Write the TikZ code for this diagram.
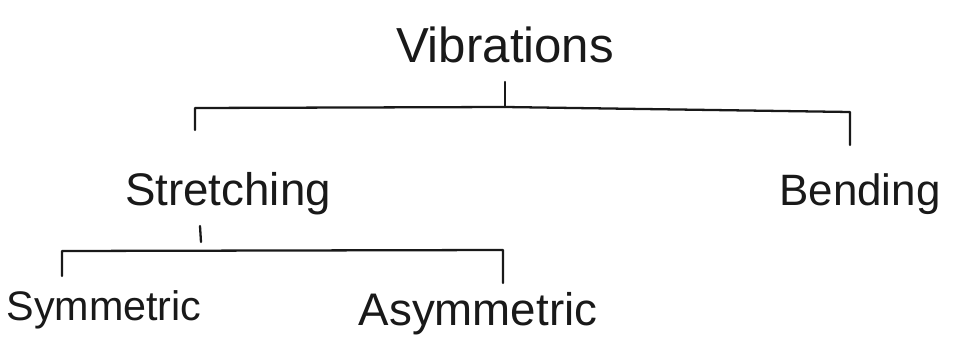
\documentclass[tikz,border=0pt]{standalone}
\usepackage{fontspec}
\setmainfont{Liberation Sans}
\begin{document}
\begin{tikzpicture}[x=0.02cm,y=-0.02cm,
  lbl/.style={anchor=base,inner sep=0pt,font=\fontsize{26}{30}\selectfont,text=black!90},
  bar/.style={line width=1.3pt,draw=black!90,line cap=round,line join=round}]
\useasboundingbox[fill=white] (0,0) rectangle (953,355);
% labels
\node[lbl,font=\fontsize{28}{32}\selectfont] (vib) at (505,62) {Vibrations};
\node[lbl] (str) at (228,205) {Stretching};
\node[lbl,font=\fontsize{25}{30}\selectfont] (ben) at (860,205) {Bending};
\node[lbl,font=\fontsize{23.5}{28}\selectfont] (sym) at (104,320) {Symmetric};
\node[lbl] (asy) at (478,325) {Asymmetric};
% top bracket
\coordinate (vt) at (505,82);
\coordinate (vj) at (505,107);
\coordinate (bl) at (195,108);
\coordinate (blb) at (195,130);
\coordinate (br) at (850,112);
\coordinate (brb) at (850,145);
\draw[bar] (vt) -- (vj);
\draw[bar] (blb) -- (bl) -- (vj) -- (br) -- (brb);
% bottom bracket
\coordinate (st) at (200,226);
\coordinate (sb) at (201,242);
\coordinate (ll) at (62,251);
\coordinate (llb) at (62,276);
\coordinate (lr) at (503,250);
\coordinate (lrb) at (503,283);
\draw[bar] (st) -- (sb);
\draw[bar] (llb) -- (ll) -- (lr) -- (lrb);
\end{tikzpicture}
\end{document}
